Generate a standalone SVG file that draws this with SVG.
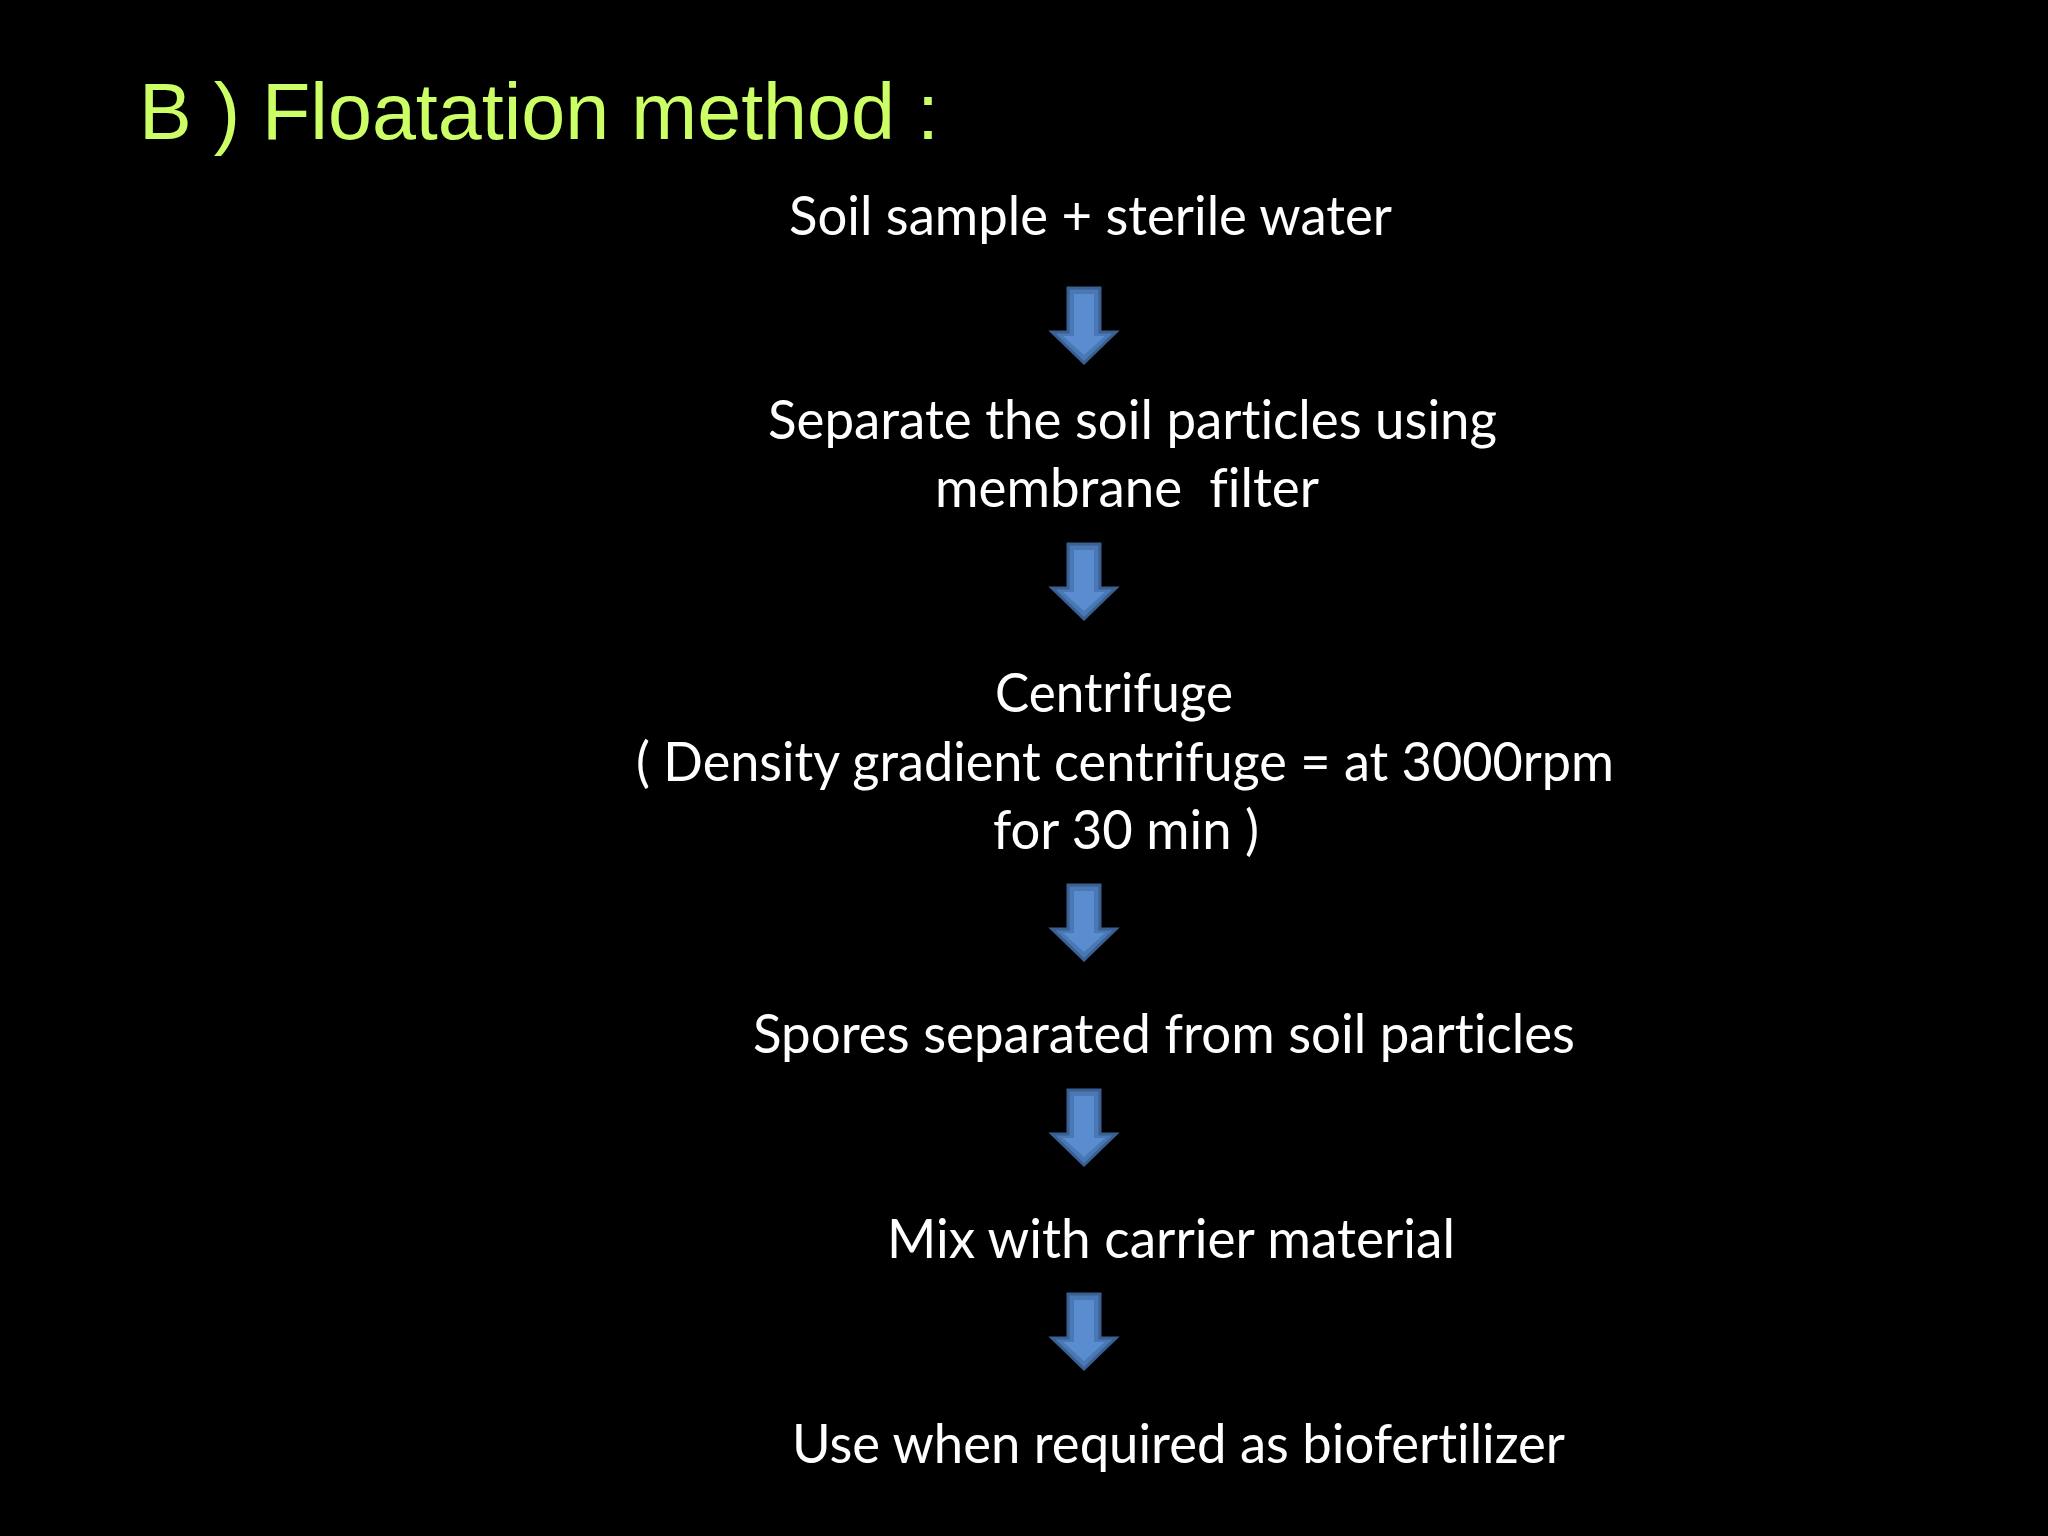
<svg xmlns="http://www.w3.org/2000/svg" width="2048" height="1536" viewBox="0 0 2048 1536">
<style>
.title{font-family:"Liberation Sans",Arial,sans-serif;font-size:80px;fill:#ccff66}
.t{font-family:Lato,"Open Sans",sans-serif;font-size:54px;fill:#ffffff;font-variant-ligatures:none;font-feature-settings:"liga" 0,"dlig" 0}
.ao{fill:#4a78b5;stroke:#3a5f92;stroke-width:3;stroke-linejoin:miter}
.ai{fill:#5a8dcf}
</style>
<defs>
<g id="arrow">
<path class="ao" d="M-16,0 H16 V44 H32 L0,75 L-32,44 H-16 Z"/>
<path class="ai" d="M-10,6 H10 V48 H21 L0,67 L-21,48 H-10 Z"/>
</g>
</defs>
<rect width="2048" height="1536" fill="#000000"/>
<g id="title"><text class="title" x="139" y="139" textLength="800" lengthAdjust="spacingAndGlyphs">B ) Floatation method :</text></g>
<g id="n1"><text class="t" x="789" y="235" textLength="603" lengthAdjust="spacingAndGlyphs">Soil sample + sterile water</text></g>
<g id="n2">
<text class="t" x="768" y="439" textLength="729" lengthAdjust="spacingAndGlyphs">Separate the soil particles using</text>
<text class="t" x="935" y="507" textLength="384" lengthAdjust="spacingAndGlyphs" xml:space="preserve">membrane  filter</text>
</g>
<g id="n3">
<text class="t" x="995" y="712" textLength="238" lengthAdjust="spacingAndGlyphs">Centrifuge</text>
<text class="t" x="636" y="781" textLength="978" lengthAdjust="spacingAndGlyphs">( Density gradient centrifuge = at 3000rpm</text>
<text class="t" x="993" y="849" textLength="266" lengthAdjust="spacingAndGlyphs">for 30 min )</text>
</g>
<g id="n4"><text class="t" x="753" y="1053" textLength="822" lengthAdjust="spacingAndGlyphs">Spores separated from soil particles</text></g>
<g id="n5"><text class="t" x="887" y="1258" textLength="568" lengthAdjust="spacingAndGlyphs">Mix with carrier material</text></g>
<g id="n6"><text class="t" x="792" y="1463" textLength="773" lengthAdjust="spacingAndGlyphs">Use when required as biofertilizer</text></g>
<g id="connectors">
<use href="#arrow" x="1084" y="288"/>
<use href="#arrow" x="1084" y="544"/>
<use href="#arrow" x="1084" y="885"/>
<use href="#arrow" x="1084" y="1090"/>
<use href="#arrow" x="1084" y="1294"/>
</g>
</svg>
